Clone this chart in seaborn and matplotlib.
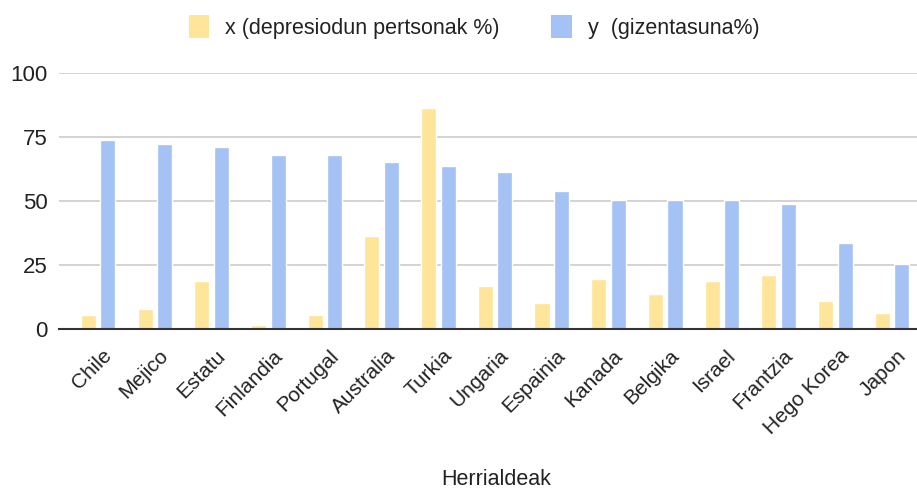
import matplotlib
matplotlib.use("Agg")
import matplotlib.pyplot as plt
import matplotlib.transforms as mtransforms
from matplotlib.patches import Patch
import seaborn as sns
import pandas as pd

countries = ["Chile", "Mejico", "Estatu", "Finlandia", "Portugal", "Australia", "Turkia",
             "Ungaria", "Espainia", "Kanada", "Belgika", "Israel", "Frantzia", "Hego Korea", "Japon"]
x_depression = [5.6, 7.8, 18.8, 1.5, 5.6, 36.5, 86.2, 16.8, 10.1, 19.6, 13.8, 19.0, 21.2, 11.0, 6.5]
y_obesity = [73.8, 72.3, 70.9, 67.9, 67.9, 65.1, 63.6, 61.3, 54.0, 50.4, 50.4, 50.4, 49.0, 33.6, 25.4]
series_names = ["x (depresiodun pertsonak %)", "y  (gizentasuna%)"]
yticks = [0, 25, 50, 75, 100]

colors = ["#FFE599", "#A4C2F4"]

df = pd.DataFrame({
    "Herrialdeak": countries * 2,
    "value": x_depression + y_obesity,
    "serie": [series_names[0]] * len(countries) + [series_names[1]] * len(countries),
})

sns.set_theme(style="white")
plt.rcParams["font.family"] = ["Liberation Sans", "DejaVu Sans"]

fig = plt.figure(figsize=(9.17, 4.90), dpi=100)
ax = fig.add_axes([59 / 917, 1 - 329.3 / 490, (917 - 59) / 917, (329.3 - 72.7) / 490])

sns.barplot(data=df, x="Herrialdeak", y="value", hue="serie", palette=colors,
            width=0.69, gap=0.23, ax=ax, legend=False, saturation=1)

ax.set_ylim(0, 100)
ax.set_xlim(-0.69, 14.44)
ax.set_yticks(yticks)
ax.set_yticklabels([str(v) for v in yticks], fontsize=16, color="#222222")
ax.yaxis.grid(True, color="#CCCCCC", linewidth=1.2)
ax.set_axisbelow(True)
for s in ["top", "right", "left"]:
    ax.spines[s].set_visible(False)
ax.spines["bottom"].set_color("#333333")
ax.spines["bottom"].set_linewidth(1.5)
ax.tick_params(axis="y", length=0, pad=8)
ax.tick_params(axis="x", length=0, pad=2)

ax.set_xticks(range(len(countries)))
ax.set_xticklabels(countries, rotation=45, ha="right", rotation_mode="anchor",
                   fontsize=15, color="#222222")
offset = mtransforms.ScaledTranslation(4 / 100, -14 / 100, fig.dpi_scale_trans)
for lab in ax.get_xticklabels():
    lab.set_transform(lab.get_transform() + offset)

ax.set_ylabel("")
ax.set_xlabel("")
fig.text(496 / 917, 1 - 479 / 490, "Herrialdeak", ha="center", va="center",
         fontsize=15.5, color="#222222")

handles = [Patch(facecolor=c, edgecolor="none") for c in colors]
fig.legend(handles, series_names, loc="center", bbox_to_anchor=(474 / 917, 1 - 27 / 490),
           ncol=2, frameon=False, fontsize=15.5, handlelength=0.95, handleheight=1.3,
           handletextpad=0.75, columnspacing=2.4, labelcolor="#222222")

fig.savefig("out.png", dpi=100)
